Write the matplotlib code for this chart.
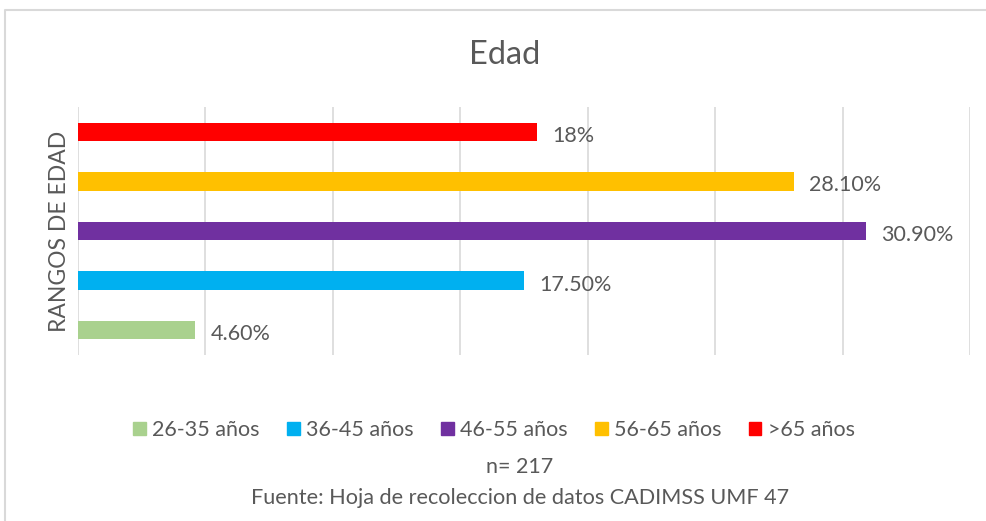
import matplotlib.pyplot as plt
from matplotlib.lines import Line2D
from matplotlib.patches import Patch

plt.rcParams['font.family'] = ['Lato', 'DejaVu Sans']

categorias = ['26-35 años', '36-45 años', '46-55 años', '56-65 años', '>65 años']
valores = [4.6, 17.5, 30.9, 28.1, 18.0]
etiquetas = ['4.60%', '17.50%', '30.90%', '28.10%', '18%']
colores = ['#A9D18E', '#00B0F0', '#7030A0', '#FFC000', '#FF0000']

gris = '#595959'

fig = plt.figure(figsize=(9.86, 5.21), dpi=100)
ax = fig.add_axes([78/986, 1-355/521, (970-78)/986, (355-107)/521])

pos = list(range(len(valores)))
barras = ax.barh(pos, valores, height=0.37, color=colores)
for p, v, t in zip(pos, valores, etiquetas):
    ax.text(v + 0.6, p - 0.08, t, va='center', ha='left', fontsize=15.5, color=gris)

ax.set_xlim(0, 35)
ax.set_ylim(-0.5, 4.5)
ax.set_xticks(range(0, 36, 5))
ax.set_yticks([])
ax.tick_params(axis='x', length=0, labelbottom=False)
ax.grid(axis='x', color='#d9d9d9', linewidth=1.2)
ax.set_axisbelow(True)
for s in ax.spines.values():
    s.set_visible(False)
ax.set_ylabel('RANGOS DE EDAD', fontsize=16.5, color=gris, labelpad=6)

fig.text(505/986, 1-55/521, 'Edad', ha='center', va='center', fontsize=23.5, color=gris)

handles = [Patch(color=c, label=l) for c, l in zip(colores, categorias)]
fig.legend(handles=handles, loc='center', bbox_to_anchor=(494/986, 1-430/521), ncol=5,
           frameon=False, fontsize=15.5, labelcolor=gris, handlelength=0.6, handleheight=0.6,
           handletextpad=0.3, columnspacing=1.25)

fig.text(520/986, 1-467/521, 'n= 217', ha='center', va='center', fontsize=15.5, color=gris)
fig.text(520/986, 1-498/521, 'Fuente: Hoja de recoleccion de datos CADIMSS UMF 47',
         ha='center', va='center', fontsize=15.6, color=gris)

fig.add_artist(Line2D([5/986, 5/986, 1], [0, 1-10/521, 1-10/521], transform=fig.transFigure,
                      color='#d9d9d9', linewidth=1.5))

fig.savefig('out.png', dpi=100)
